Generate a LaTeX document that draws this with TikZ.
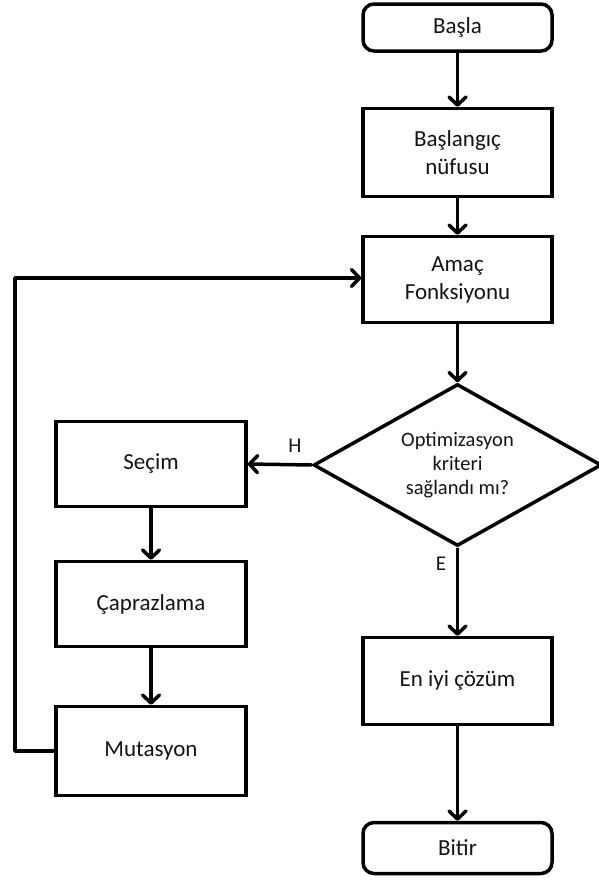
\documentclass[tikz,border=0pt]{standalone}
\usepackage{fontspec}
\setmainfont{Carlito}
\usetikzlibrary{shapes.geometric,arrows.meta}
\begin{document}
\begin{tikzpicture}[x=1pt,y=-1pt,
  every node/.style={text=black!92},
  box/.style={draw=black,line width=3.5pt,fill=white,rectangle,minimum width=189pt,inner sep=0pt,
     font=\fontsize{23}{28}\selectfont,align=center},
  term/.style={box,rounded corners=11pt},
  dec/.style={draw=black,line width=3.5pt,fill=white,diamond,minimum width=288pt,minimum height=162pt,
     inner sep=0pt},
  dectext/.style={inner sep=0pt,font=\fontsize{20.5}{24}\selectfont,align=center},
  lbl/.style={font=\fontsize{21}{24}\selectfont,inner sep=0pt},
  arr/.style={line width=3.5pt,line join=round,-{Straight Barb[length=8pt,width=17pt,line join=round,line cap=round]}}
]
\useasboundingbox (0,0) rectangle (599,881);
\fill[white] (0,0) rectangle (599,881);
\node[term,minimum height=47pt] (start) at (457.5,27.5) {Başla};
\node[box,minimum height=88pt] (init) at (457.5,152.5) {Başlangıç\\nüfusu};
\node[box,minimum height=86pt] (obj) at (457.5,279.5) {Amaç\\Fonksiyonu};
\node[dec] (crit) at (457.5,465) {};
\node[dectext] (crittext) at (crit.center) {Optimizasyon\\kriteri\\sağlandı mı?};
\node[box,minimum width=190pt,minimum height=85pt] (sec) at (151,464) {Seçim};
\node[box,minimum width=190pt,minimum height=85pt] (cap) at (151,604) {Çaprazlama};
\node[box,minimum width=190pt,minimum height=89pt] (mut) at (151,751) {Mutasyon};
\node[box,minimum height=87pt] (best) at (457.5,681) {En iyi çözüm};
\node[term,minimum height=51pt] (end) at (457.5,848) {Bitir};
\coordinate (loop) at (15,500);
\node[lbl] (h) at (295,446) {H};
\node[lbl] (e) at (441,564) {E};
\draw[arr] (start) -- (init);
\draw[arr] (init) -- (obj);
\draw[arr] (obj) -- (crit);
\draw[arr] (crit.west) -- (sec.east);
\draw[arr] (crit.south) -- (best.north);
\draw[arr] (best) -- (end);
\draw[arr] (sec) -- (cap);
\draw[arr] (cap) -- (mut);
\draw[arr] (mut.west) -| (loop) |- ([yshift=1.5pt]obj.west);
\end{tikzpicture}
\end{document}
